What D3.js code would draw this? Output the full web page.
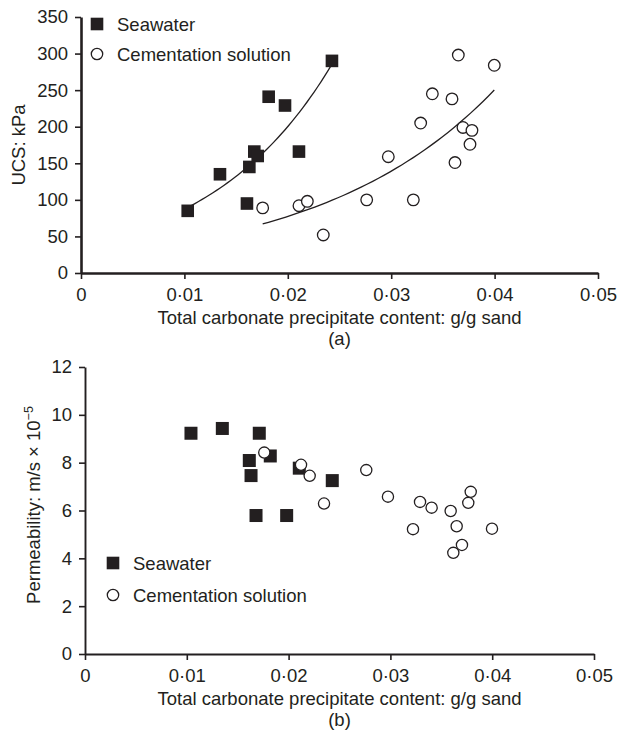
<!DOCTYPE html>
<html>
<head>
<meta charset="utf-8">
<script src="https://cdn.jsdelivr.net/npm/d3@7"></script>
<style>
  body { margin: 0; background: #fff; }
  svg text { font-family: "Liberation Sans", Arial, sans-serif; fill: #231f20; }
</style>
</head>
<body>
<svg width="619" height="731"></svg>
<script>
// carbonate content (g/g sand) vs UCS (kPa)
var ucsSeawater = [[0.01032, 85], [0.01344, 135], [0.01605, 95], [0.01628, 145], [0.01676, 166],
  [0.01709, 160], [0.01815, 241], [0.01973, 229], [0.02108, 166], [0.02427, 290]];
var ucsCementation = [[0.01757, 89], [0.02108, 92], [0.02189, 98], [0.02343, 52], [0.02763, 100],
  [0.02972, 159], [0.03214, 100], [0.03285, 205], [0.03398, 245], [0.03588, 238], [0.03617, 151],
  [0.03649, 298], [0.03694, 199], [0.03781, 195], [0.03762, 176], [0.03997, 284]];

// carbonate content vs permeability (m/s x 10^-5)
var permSeawater = [[0.01041, 9.23], [0.01349, 9.43], [0.01712, 9.23], [0.01614, 8.09], [0.01631, 7.46],
  [0.0182, 8.28], [0.0168, 5.79], [0.01981, 5.79], [0.02105, 7.77], [0.02429, 7.25]];
var permCementation = [[0.01761, 8.42], [0.02122, 7.91], [0.02207, 7.45], [0.02348, 6.29], [0.02763, 7.69],
  [0.02976, 6.58], [0.03222, 5.22], [0.03291, 6.36], [0.03405, 6.12], [0.03592, 5.98], [0.03651, 5.34],
  [0.03618, 4.23], [0.03703, 4.56], [0.03765, 6.32], [0.03789, 6.78], [0.03998, 5.24]];

var xTicks = [0, 0.01, 0.02, 0.03, 0.04, 0.05];
var ucsTicks = [0, 50, 100, 150, 200, 250, 300, 350];
var permTicks = [0, 2, 4, 6, 8, 10, 12];
var legendLabels = ["Seawater", "Cementation solution"];
var xTitle = "Total carbonate precipitate content: g/g sand";

var ink = "#231f20";
var svg = d3.select("svg");
svg.append("rect").attr("width", 619).attr("height", 731).attr("fill", "#fff");

var fmtX = d => d === 0 ? "0" : d3.format(".2f")(d).replace(".", "\u00b7");

// exponential trendline (least squares on ln y), like a spreadsheet fit
function expFit(pts) {
  var mx = d3.mean(pts, d => d[0]), my = d3.mean(pts, d => Math.log(d[1]));
  var sxy = d3.sum(pts, d => (d[0] - mx) * (Math.log(d[1]) - my));
  var sxx = d3.sum(pts, d => (d[0] - mx) * (d[0] - mx));
  var b = sxy / sxx, a = Math.exp(my - b * mx);
  return x => a * Math.exp(b * x);
}

function panel(o) {
  var x = d3.scaleLinear().domain([0, 0.05]).range([o.left, o.right]);
  var y = d3.scaleLinear().domain([0, o.yMax]).range([o.bottom, o.top]);
  var g = svg.append("g");

  // trendlines
  (o.trends || []).forEach(function(pts) {
    var f = expFit(pts);
    var ext = d3.extent(pts, d => d[0]);
    var xs = d3.range(0, 41).map(i => ext[0] + (ext[1] - ext[0]) * i / 40);
    g.append("path")
      .attr("d", d3.line().x(d => x(d)).y(d => y(f(d)))(xs))
      .attr("fill", "none").attr("stroke", ink).attr("stroke-width", 1.3);
  });

  // axes
  var ax = g.append("g")
    .attr("transform", "translate(0," + o.bottom + ")")
    .call(d3.axisBottom(x).tickValues(xTicks).tickFormat(fmtX)
      .tickSize(6).tickSizeOuter(0).tickPadding(9));
  var ay = g.append("g")
    .attr("transform", "translate(" + o.left + ",0)")
    .call(d3.axisLeft(y).tickValues(o.yTicks).tickSize(6).tickSizeOuter(0).tickPadding(7));
  [ax, ay].forEach(function(a) {
    a.attr("font-family", null).attr("font-size", null).style("color", ink);
    a.select(".domain").attr("stroke-width", o.axisW);
    a.selectAll(".tick line").attr("stroke-width", 1.6);
    a.selectAll(".tick text").style("font-size", "18.5px");
  });

  // markers
  g.selectAll(".sq").data(o.sea).join("rect")
    .attr("x", d => x(d[0]) - o.sq / 2).attr("y", d => y(d[1]) - o.sq / 2)
    .attr("width", o.sq).attr("height", o.sq).attr("fill", ink);
  g.selectAll(".ci").data(o.cem).join("circle")
    .attr("cx", d => x(d[0])).attr("cy", d => y(d[1])).attr("r", o.r)
    .attr("fill", "#fff").attr("stroke", ink).attr("stroke-width", 1.3);

  // legend
  var lg = g.append("g").attr("transform", "translate(" + o.legX + "," + o.legY + ")");
  lg.append("rect").attr("x", -6.3).attr("y", -6.3).attr("width", 12.6).attr("height", 12.6).attr("fill", ink);
  lg.append("circle").attr("cy", o.legGap).attr("r", 5.7)
    .attr("fill", "#fff").attr("stroke", ink).attr("stroke-width", 1.3);
  legendLabels.forEach(function(t, i) {
    lg.append("text").attr("x", 20).attr("y", i * o.legGap + 6.5)
      .style("font-size", "18.5px").text(t);
  });

  // titles
  var cx = (o.left + o.right) / 2;
  g.append("text").attr("x", cx).attr("y", o.bottom + 51).attr("text-anchor", "middle")
    .style("font-size", "18.5px").text(xTitle);
  g.append("text").attr("x", cx).attr("y", o.bottom + 72).attr("text-anchor", "middle")
    .style("font-size", "18.5px").text(o.tag);
  var yt = g.append("text")
    .attr("transform", "translate(" + o.yLabX + "," + o.yLabY + ") rotate(-90)")
    .attr("text-anchor", "middle").style("font-size", "18.5px");
  yt.append("tspan").text(o.yLabel);
  if (o.yExp) yt.append("tspan").attr("dy", "-0.55em").style("font-size", "12.5px").text(o.yExp);
}

panel({
  left: 81, right: 598, top: 17, bottom: 273, yMax: 350, yTicks: ucsTicks,
  sea: ucsSeawater, cem: ucsCementation, trends: [ucsSeawater, ucsCementation],
  sq: 12.6, r: 5.8, axisW: 2.6,
  legX: 97, legY: 24, legGap: 30,
  tag: "(a)", yLabel: "UCS: kPa", yLabX: 25, yLabY: 145
});

panel({
  left: 85, right: 594, top: 367, bottom: 654, yMax: 12, yTicks: permTicks,
  sea: permSeawater, cem: permCementation, trends: [],
  sq: 13, r: 5.6, axisW: 1.9,
  legX: 113, legY: 563, legGap: 32,
  tag: "(b)", yLabel: "Permeability: m/s \u00d7 10", yExp: "\u22125", yLabX: 39.5, yLabY: 505
});
</script>
</body>
</html>
